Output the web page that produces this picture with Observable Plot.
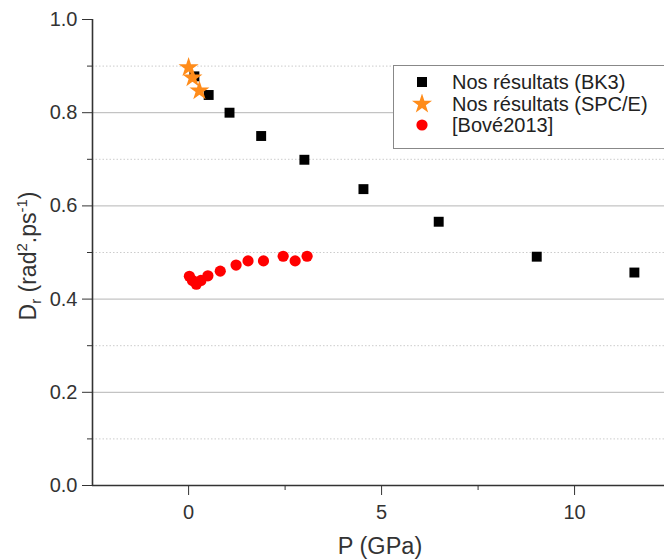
<!DOCTYPE html>
<html>
<head>
<meta charset="utf-8">
<script src="https://cdn.jsdelivr.net/npm/d3@7"></script>
<script src="https://cdn.jsdelivr.net/npm/@observablehq/plot@0.6"></script>
<style>
  body { margin: 0; background: #fff; }
  #wrap { position: relative; width: 664px; height: 560px; font-family: "Liberation Sans", Arial, sans-serif; }
  #legend { position: absolute; left: 393px; top: 65px; width: 290px; height: 84px; border: 1px solid #888; background: #fff; box-sizing: border-box; font-size: 20px; color: #222; }
  .row { position: absolute; left: 0; height: 22px; line-height: 22px; white-space: nowrap; }
  .row svg { position: absolute; left: 18px; top: 1px; }
  .row span { position: absolute; left: 58px; }
</style>
</head>
<body>
<div id="wrap"></div>
<script>
// Data
const bk3P = [0.15, 0.52, 1.06, 1.88, 3.0, 4.53, 6.48, 9.02, 11.55];
const bk3D = [0.878, 0.838, 0.800, 0.750, 0.699, 0.636, 0.566, 0.491, 0.457];
const spceP = [0.0, 0.1, 0.28];
const spceD = [0.897, 0.875, 0.847];
const boveP = [0.02, 0.1, 0.2, 0.32, 0.5, 0.82, 1.23, 1.54, 1.94, 2.45, 2.76, 3.07];
const boveD = [0.449, 0.440, 0.432, 0.440, 0.450, 0.460, 0.473, 0.482, 0.482, 0.492, 0.482, 0.492];
const seriesNames = ["Nos résultats (BK3)", "Nos résultats (SPC/E)", "[Bové2013]"];
const yMajor = [0, 0.2, 0.4, 0.6, 0.8, 1.0];
const yMinor = [0.1, 0.3, 0.5, 0.7, 0.9];
const yGridMajor = [0.2, 0.4, 0.6, 0.8];
const xMajor = [0, 5, 10];
const xMinor = [2.5, 7.5];

const toRows = (xs, ys) => xs.map((p, i) => ({p, d: ys[i]}));
const bk3 = toRows(bk3P, bk3D);
const spce = toRows(spceP, spceD);
const bove = toRows(boveP, boveD);

const xMin = -2.49, xMax = 12.33;

const chart = Plot.plot({
  width: 664,
  height: 560,
  marginLeft: 92,
  marginTop: 19,
  marginBottom: 75,
  marginRight: 0,
  style: {fontFamily: "'Liberation Sans', Arial, sans-serif", color: "#333", background: "#fff"},
  x: {domain: [xMin, xMax]},
  y: {domain: [0, 1]},
  marks: [
    Plot.ruleY(yMinor, {stroke: "#ccc", strokeDasharray: "1.5,2", strokeWidth: 1}),
    Plot.ruleY(yGridMajor, {stroke: "#b5b5b5", strokeWidth: 1}),
    Plot.axisY({ticks: yMajor, tickSize: 10, tickPadding: 5, tickFormat: d3.format(".1f"), label: null, stroke: "#333", fill: "#333"}),
    Plot.axisY({ticks: yMinor, tickSize: 5, tickFormat: () => "", label: null, stroke: "#333"}),
    Plot.axisX({ticks: xMajor, tickSize: 10, tickPadding: 9, label: null, stroke: "#333", fill: "#333"}),
    Plot.axisX({ticks: xMinor, tickSize: 5, tickFormat: () => "", label: null, stroke: "#333"}),
    Plot.ruleY([0], {stroke: "#333", strokeWidth: 1.6}),
    Plot.ruleX([xMin], {stroke: "#333", strokeWidth: 1.6}),
    Plot.dot(bk3, {x: "p", y: "d", symbol: "square", fill: "#000", r: 5.6}),
    Plot.dot(bove, {x: "p", y: "d", symbol: "circle", fill: "#f00", r: 5.6}),
    Plot.dot(spce, {x: "p", y: "d", symbol: "star", fill: "#ff8c1a", r: 6.3})
  ]
});

const wrap = document.getElementById("wrap");
wrap.appendChild(chart);

const svg = d3.select(chart);
// enlarge every tick label rendered by Plot
svg.selectAll("text").style("font-size", "20px");
// X axis label
svg.append("text")
  .attr("x", 380).attr("y", 554)
  .attr("text-anchor", "middle")
  .style("font-size", "23.5px")
  .attr("fill", "#333")
  .text("P (GPa)");
// Y axis label with sub/superscripts
const yl = svg.append("text")
  .attr("transform", "translate(36,256) rotate(-90)")
  .attr("text-anchor", "middle")
  .style("font-size", "23px")
  .attr("fill", "#333");
yl.append("tspan").text("D");
yl.append("tspan").style("font-size", "15px").attr("dy", 5).text("r");
yl.append("tspan").attr("dy", -5).text(" (rad");
yl.append("tspan").style("font-size", "15px").attr("dy", -9).text("2");
yl.append("tspan").attr("dy", 9).text(".ps");
yl.append("tspan").style("font-size", "15px").attr("dy", -9).text("-1");
yl.append("tspan").attr("dy", 9).text(")");

// Legend
const legend = document.createElement("div");
legend.id = "legend";
const symbols = [
  '<svg width="20" height="20"><rect x="5" y="5" width="10" height="10" fill="#000"/></svg>',
  '<svg width="20" height="20">' + '<path transform="translate(10,10)" d="' + d3.symbol(d3.symbolStar, Math.PI * 6.3 * 6.3)() + '" fill="#ff8c1a"/></svg>',
  '<svg width="20" height="20"><circle cx="10" cy="10" r="5.6" fill="#f00"/></svg>'
];
seriesNames.forEach((name, i) => {
  const row = document.createElement("div");
  row.className = "row";
  row.style.top = (5 + i * 21.7) + "px";
  row.innerHTML = symbols[i] + "<span>" + name + "</span>";
  legend.appendChild(row);
});
wrap.appendChild(legend);
</script>
</body>
</html>
